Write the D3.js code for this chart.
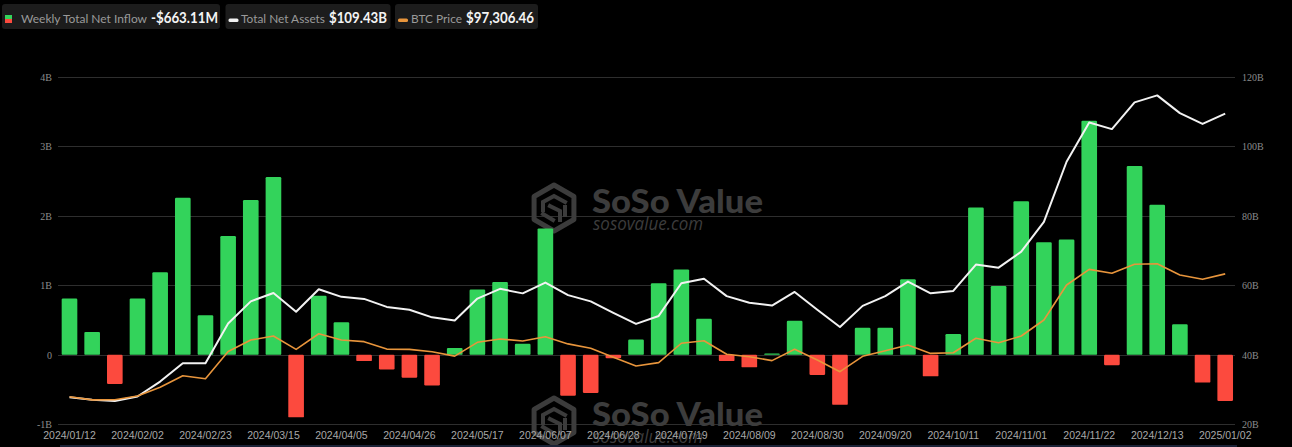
<!DOCTYPE html>
<html>
<head>
<meta charset="utf-8">
<script src="https://cdn.jsdelivr.net/npm/d3@7/dist/d3.min.js"></script>
<style>
  html, body { margin: 0; padding: 0; background: #000; }
  svg { display: block; }
</style>
</head>
<body>
<svg id="chart" width="1292" height="447"></svg>
<script>
// ---------- DATA ----------
const dates = [
  "2024/01/12","2024/01/19","2024/01/26","2024/02/02","2024/02/09","2024/02/16","2024/02/23",
  "2024/03/01","2024/03/08","2024/03/15","2024/03/22","2024/03/29","2024/04/05","2024/04/12",
  "2024/04/19","2024/04/26","2024/05/03","2024/05/10","2024/05/17","2024/05/24","2024/05/31",
  "2024/06/07","2024/06/14","2024/06/21","2024/06/28","2024/07/05","2024/07/12","2024/07/19",
  "2024/07/26","2024/08/02","2024/08/09","2024/08/16","2024/08/23","2024/08/30","2024/09/06",
  "2024/09/13","2024/09/20","2024/09/27","2024/10/04","2024/10/11","2024/10/18","2024/10/25",
  "2024/11/01","2024/11/08","2024/11/15","2024/11/22","2024/11/29","2024/12/06","2024/12/13",
  "2024/12/20","2024/12/27","2025/01/02"
];
// Weekly total net inflow, billions USD
const netInflow = [
  0.81, 0.33, -0.42, 0.81, 1.19, 2.26, 0.57, 1.71, 2.23, 2.56,
  -0.90, 0.85, 0.47, -0.09, -0.21, -0.33, -0.44, 0.10, 0.94, 1.05,
  0.16, 1.82, -0.59, -0.55, -0.05, 0.22, 1.03, 1.23, 0.52, -0.09,
  -0.18, 0.02, 0.49, -0.29, -0.72, 0.39, 0.39, 1.09, -0.31, 0.30,
  2.12, 0.99, 2.21, 1.62, 1.66, 3.37, -0.15, 2.72, 2.16, 0.44,
  -0.40, -0.663
];
// Total net assets, billions USD
const totalAssets = [
  27.8, 27.1, 26.7, 28.0, 32.3, 37.6, 37.6, 49.0, 55.4, 57.8,
  52.4, 58.9, 56.7, 56.1, 53.8, 53.0, 50.8, 49.9, 56.2, 59.0,
  57.7, 60.8, 57.2, 55.4, 52.1, 48.9, 51.2, 60.6, 61.9, 56.9,
  55.0, 54.2, 58.1, 53.0, 48.0, 54.1, 56.9, 61.1, 57.7, 58.4,
  66.0, 65.1, 69.7, 78.3, 95.6, 106.9, 105.0, 112.7, 114.7, 109.6,
  106.5, 109.43
];
// BTC price, USD
const btcPrice = [
  42900, 41500, 41600, 43200, 47100, 52200, 50900, 62900, 68000, 69800,
  63900, 70800, 68000, 67300, 64000, 63900, 62800, 60900, 67000, 68500,
  67600, 69500, 66300, 64400, 60400, 56500, 58000, 66600, 67700, 61700,
  60600, 58900, 63900, 59200, 54000, 60800, 63300, 65800, 62100, 62400,
  68800, 66800, 69800, 76900, 92400, 99300, 97600, 101600, 101800, 96800,
  94900, 97306.46
];
const leftTicks = [-1, 0, 1, 2, 3, 4];
const leftTickLabels = ["-1B", "0", "1B", "2B", "3B", "4B"];
const rightTicks = [20, 40, 60, 80, 100, 120];
const rightTickLabels = ["20B", "40B", "60B", "80B", "100B", "120B"];
const legendItems = [
  { name: "Weekly Total Net Inflow", value: "-$663.11M" },
  { name: "Total Net Assets", value: "$109.43B" },
  { name: "BTC Price", value: "$97,306.46" }
];

// ---------- LAYOUT ----------
const svg = d3.select("#chart");
const W = 1292, H = 447;
const plotLeft = 58, plotRight = 1236.7, plotTop = 77, plotBottom = 424.3;

svg.append("rect").attr("width", W).attr("height", H).attr("fill", "#000");

const x = d3.scaleBand()
  .domain(dates)
  .range([plotLeft, plotRight])
  .paddingInner(0.31)
  .paddingOuter(0.1625);
const yL = d3.scaleLinear().domain([-1, 4]).range([plotBottom, plotTop]);
const yR = d3.scaleLinear().domain([20, 120]).range([plotBottom, plotTop]);
const yBTC = d3.scaleLinear().domain([30700, 184500]).range([plotBottom, plotTop]);

const cx = d => x(d) + x.bandwidth() / 2;

// ---------- GRID ----------
const grid = svg.append("g");
grid.selectAll("line").data(leftTicks).join("line")
  .attr("x1", plotLeft).attr("x2", 1235)
  .attr("y1", d => Math.round(yL(d)) + 0.5).attr("y2", d => Math.round(yL(d)) + 0.5)
  .attr("stroke", "#2e2e2e").attr("stroke-width", 1);

// ---------- WATERMARKS ----------
function watermark(g) {
  const c = "#3c3c3c";
  const hx = 554, hy = 208, r = 23;
  const pts = d3.range(6).map(i => {
    const a = Math.PI / 180 * (60 * i - 90);
    return [hx + r * Math.cos(a), hy + r * Math.sin(a)];
  });
  g.append("path").attr("d", "M" + pts.map(p => p.join(",")).join("L") + "Z")
    .attr("fill", "none").attr("stroke", c).attr("stroke-width", 5).attr("stroke-linejoin", "round");
  g.append("path")
    .attr("d", `M${hx-11},${hy+2} L${hx-11},${hy-6} L${hx},${hy-12} L${hx+11},${hy-6} M${hx-4},${hy-2} L${hx+6},${hy+3} L${hx+6},${hy+12} M${hx-11},${hy+6} L${hx-1},${hy+12} M${hx+11},${hy-1} L${hx+11},${hy+7}`)
    .attr("fill", "none").attr("stroke", c).attr("stroke-width", 4).attr("stroke-linecap", "square");
  g.append("text").attr("x", 592).attr("y", 213)
    .attr("font-family", "Lato, 'Open Sans', sans-serif").attr("font-weight", 900)
    .attr("font-size", 32).attr("fill", c)
    .attr("textLength", 171).attr("lengthAdjust", "spacingAndGlyphs")
    .text("SoSo Value");
  g.append("text").attr("x", 593).attr("y", 230)
    .attr("font-family", "'Open Sans', Lato, sans-serif").attr("font-style", "italic")
    .attr("font-size", 18).attr("fill", c)
    .attr("textLength", 110).attr("lengthAdjust", "spacingAndGlyphs")
    .text("sosovalue.com");
}
watermark(svg.append("g"));
watermark(svg.append("g").attr("transform", "translate(0,213)"));

// ---------- BARS ----------
const bars = svg.append("g");
const idx = d3.range(dates.length);
bars.selectAll("rect").data(idx).join("rect")
  .attr("x", i => x(dates[i]))
  .attr("width", x.bandwidth())
  .attr("y", i => yL(Math.max(0, netInflow[i])))
  .attr("height", i => Math.abs(yL(netInflow[i]) - yL(0)))
  .attr("rx", 1.2)
  .attr("fill", i => netInflow[i] >= 0 ? "#33d35b" : "#fc4a3e");

// ---------- LINES ----------
const assetsLine = d3.line().x(i => cx(dates[i])).y(i => yR(totalAssets[i]));
svg.append("path").datum(idx).attr("d", assetsLine)
  .attr("fill", "none").attr("stroke", "#f2f2f2").attr("stroke-width", 2)
  .attr("stroke-linejoin", "round");
const btcLine = d3.line().x(i => cx(dates[i])).y(i => yBTC(btcPrice[i]));
svg.append("path").datum(idx).attr("d", btcLine)
  .attr("fill", "none").attr("stroke", "#e8953c").attr("stroke-width", 1.6)
  .attr("stroke-linejoin", "round");

// ---------- AXES LABELS ----------
const leftAxis = d3.axisLeft(yL).tickValues(leftTicks)
  .tickFormat((d, i) => leftTickLabels[i]).tickSize(0).tickPadding(0);
const gl = svg.append("g").attr("transform", "translate(52,0)").call(leftAxis);
gl.select(".domain").remove();
gl.selectAll("text").attr("font-family", "'Liberation Serif', 'DejaVu Serif', serif")
  .attr("font-size", 10).attr("fill", "#8c8c8c");

const rightAxis = d3.axisRight(yR).tickValues(rightTicks)
  .tickFormat((d, i) => rightTickLabels[i]).tickSize(0).tickPadding(0);
const gr = svg.append("g").attr("transform", "translate(1242,0)").call(rightAxis);
gr.select(".domain").remove();
gr.selectAll("text").attr("font-family", "'Liberation Serif', 'DejaVu Serif', serif")
  .attr("font-size", 10).attr("fill", "#8c8c8c");

const xAxis = d3.axisBottom(x)
  .tickValues(dates.filter((d, i) => i % 3 === 0))
  .tickSize(0).tickPadding(0);
const gx = svg.append("g").attr("transform", "translate(0,432)").call(xAxis);
gx.select(".domain").remove();
gx.selectAll("text").attr("font-family", "'Liberation Sans', Arial, sans-serif")
  .attr("font-size", 10.5).attr("fill", "#a8a8a8").attr("dy", "0.71em");

// bottom slider strip
svg.append("rect").attr("x", 60).attr("y", 445).attr("width", 1177).attr("height", 2)
  .attr("fill", "#1b2236");

// ---------- LEGEND ----------
const legend = svg.append("g");
const boxes = [
  { x: 2, w: 218, icon: "split", labelX: 21, labelW: 126, valueX: 151, valueW: 67 },
  { x: 225.5, w: 165, icon: "#f2f2f2", labelX: 241, labelW: 84, valueX: 329, valueW: 58 },
  { x: 395, w: 143, icon: "#e8953c", labelX: 411, labelW: 51, valueX: 466, valueW: 68 }
];
boxes.forEach((b, i) => {
  const g = legend.append("g");
  g.append("rect").attr("x", b.x).attr("y", 4).attr("width", b.w).attr("height", 25)
    .attr("rx", 3).attr("fill", "#1c1c1c");
  if (b.icon === "split") {
    g.append("rect").attr("x", 5).attr("y", 15).attr("width", 7).attr("height", 4).attr("fill", "#33d35b");
    g.append("rect").attr("x", 5).attr("y", 19).attr("width", 7).attr("height", 4).attr("fill", "#fc4a3e");
  } else {
    g.append("rect").attr("x", b.x + 3).attr("y", 18.5).attr("width", 10).attr("height", 3.5)
      .attr("rx", 1.5).attr("fill", b.icon);
  }
  g.append("text").attr("x", b.labelX).attr("y", 22.5)
    .attr("font-family", "Lato, 'Open Sans', sans-serif").attr("font-size", 12)
    .attr("textLength", b.labelW).attr("lengthAdjust", "spacingAndGlyphs")
    .attr("fill", "#9a9a9a").text(legendItems[i].name);
  g.append("text").attr("x", b.valueX).attr("y", 23)
    .attr("font-family", "Lato, 'Open Sans', sans-serif").attr("font-weight", 700)
    .attr("font-size", 14.5)
    .attr("textLength", b.valueW).attr("lengthAdjust", "spacingAndGlyphs")
    .attr("fill", "#f4f4f4").text(legendItems[i].value);
});
</script>
</body>
</html>
